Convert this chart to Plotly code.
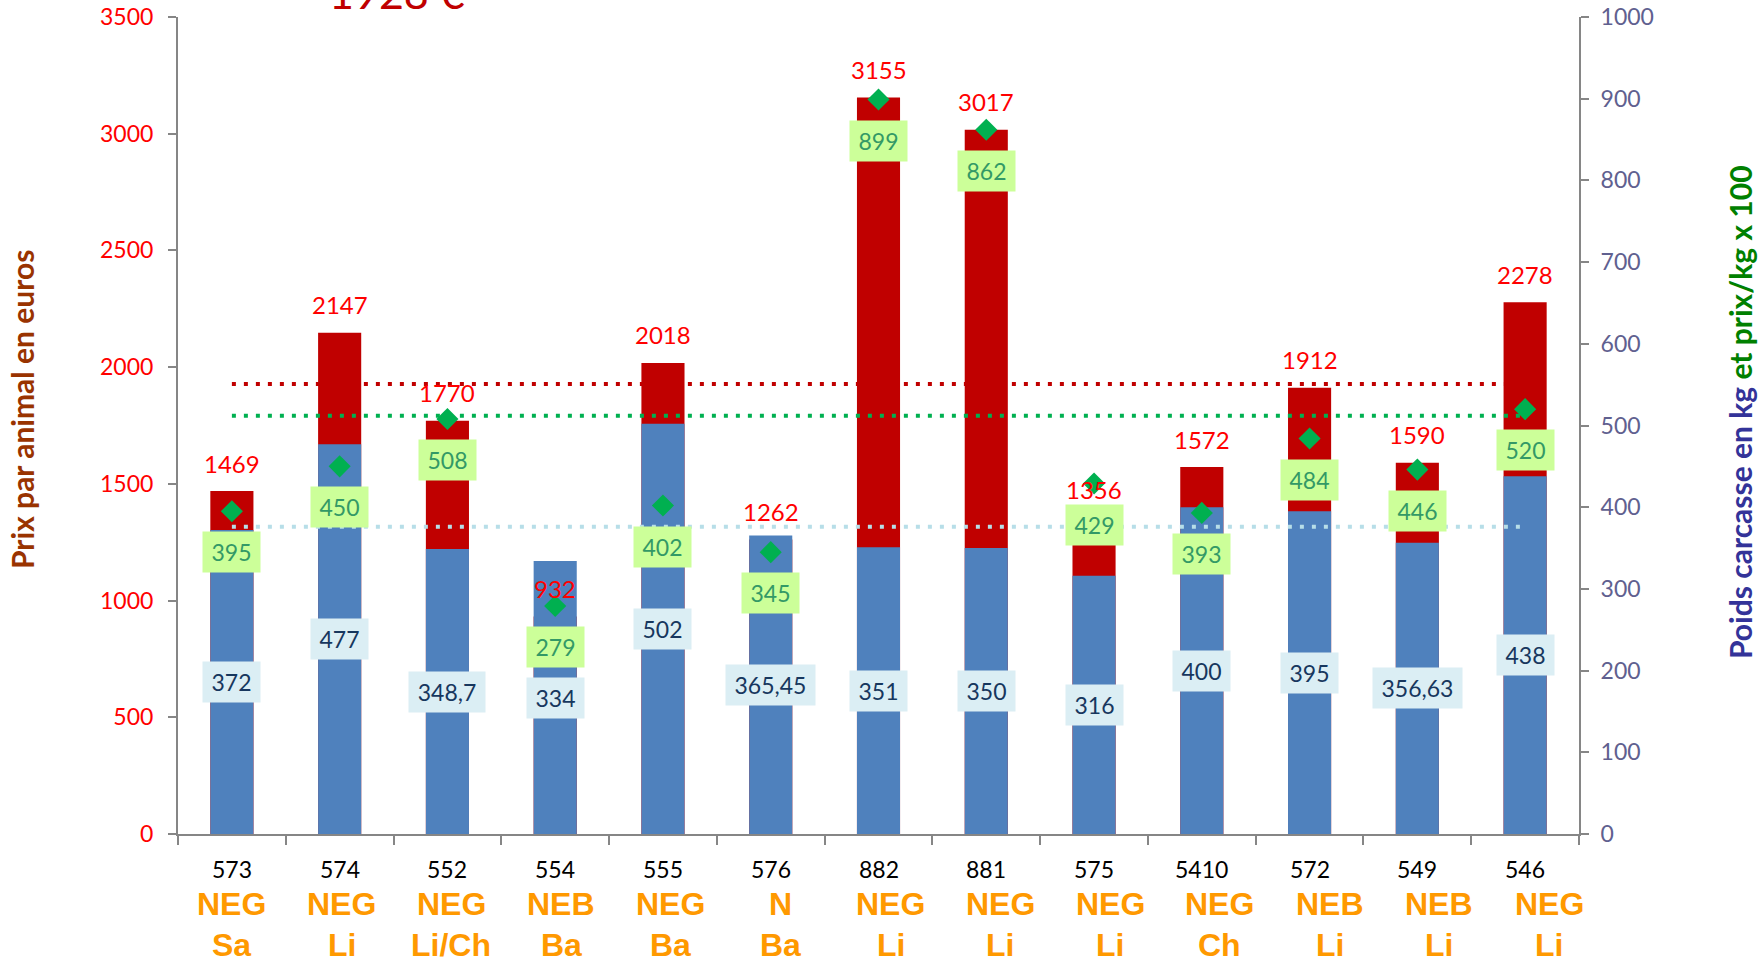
import plotly.graph_objects as go

# ---- data ----
ids = ["573", "574", "552", "554", "555", "576", "882", "881", "575", "5410", "572", "549", "546"]
types = ["NEG", "NEG", "NEG", "NEB", "NEG", "N", "NEG", "NEG", "NEG", "NEG", "NEB", "NEB", "NEG"]
breeds = ["Sa", "Li", "Li/Ch", "Ba", "Ba", "Ba", "Li", "Li", "Li", "Ch", "Li", "Li", "Li"]
price_animal = [1469, 2147, 1770, 932, 2018, 1262, 3155, 3017, 1356, 1572, 1912, 1590, 2278]
carcass_kg = [372, 477, 348.7, 334, 502, 365.45, 351, 350, 316, 400, 395, 356.63, 438]
price_kg_x100 = [395, 450, 508, 279, 402, 345, 899, 862, 429, 393, 484, 446, 520]
avg_price_line = 1928      # left axis
avg_pricekg_line = 512     # right axis
avg_weight_line = 376      # right axis
title_text = "1928 €"

FONT = "Lato, Open Sans, sans-serif"
W, H = 1758, 966
ML, MR, MT, MB = 178, 179, 17, 132
PW, PH = W - ML - MR, H - MT - MB


def px_to_paper_y(py):
    return (H - MB - py) / PH


def px_to_paper_x(px):
    return (px - ML) / PW


def fmt(v):
    return str(int(v)) if float(v).is_integer() else str(v).replace(".", ",")


fig = go.Figure()

fig.add_trace(go.Bar(x=ids, y=price_animal, marker=dict(color="#c00000", line=dict(width=0)),
                     width=0.4, yaxis="y", name="Prix"))
fig.add_trace(go.Bar(x=ids, y=carcass_kg, marker=dict(color="#4f81bd", line=dict(width=0)),
                     width=0.4, yaxis="y2", name="Poids"))

# reference dotted lines
fig.add_trace(go.Scatter(x=[ids[0], ids[-1]], y=[avg_price_line] * 2, mode="lines", yaxis="y",
                         line=dict(color="#c00000", width=4, dash="4px,8px"), hoverinfo="skip"))
fig.add_trace(go.Scatter(x=[ids[0], ids[-1]], y=[avg_pricekg_line] * 2, mode="lines", yaxis="y2",
                         line=dict(color="#00b050", width=4, dash="4px,8px"), hoverinfo="skip"))
fig.add_trace(go.Scatter(x=[ids[0], ids[-1]], y=[avg_weight_line] * 2, mode="lines", yaxis="y2",
                         line=dict(color="#b7dee8", width=4, dash="4px,8px"), hoverinfo="skip"))

fig.add_trace(go.Scatter(x=ids, y=price_kg_x100, mode="markers", yaxis="y2",
                         marker=dict(symbol="diamond", size=17, color="#00b050", line=dict(width=0))))

ann = []
for i, cid in enumerate(ids):
    # category axis annotations: use the category index
    ann.append(dict(x=i, y=price_animal[i], xref="x", yref="y", text=str(price_animal[i]),
                    showarrow=False, yanchor="middle", yshift=28,
                    font=dict(family=FONT, size=24, color="#ff0000")))
    t = fmt(carcass_kg[i])
    nd = sum(c.isdigit() for c in t)
    nc = t.count(",")
    ann.append(dict(x=i, y=carcass_kg[i] / 2, xref="x", yref="y2", text=t, showarrow=False,
                    yanchor="middle", bgcolor="#dbeef4", borderpad=5, height=30,
                    width=nd * 13 + nc * 6 + 8,
                    font=dict(family=FONT, size=23, color="#17375e")))
    t2 = str(price_kg_x100[i])
    ann.append(dict(x=i, y=price_kg_x100[i], xref="x", yref="y2", text=t2, showarrow=False,
                    yanchor="middle", yshift=-41, bgcolor="#ccff99", borderpad=5, height=30,
                    width=len(t2) * 13 + 8,
                    font=dict(family=FONT, size=23, color="#339966")))
    ann.append(dict(x=i, y=px_to_paper_y(869), xref="x", yref="paper", text=cid, showarrow=False,
                    yanchor="middle", font=dict(family=FONT, size=23, color="#000000")))
    ann.append(dict(x=i, y=px_to_paper_y(904), xref="x", yref="paper", text="<b>%s</b>" % types[i],
                    showarrow=False, yanchor="middle", xshift=round(i * 2),
                    font=dict(family="Liberation Sans, Arial, sans-serif", size=32, color="#ff9900")))
    ann.append(dict(x=i, y=px_to_paper_y(945), xref="x", yref="paper", text="<b>%s</b>" % breeds[i],
                    showarrow=False, yanchor="middle", xshift=round(i * 2),
                    font=dict(family="Liberation Sans, Arial, sans-serif", size=32, color="#ff9900")))

# axis titles
ann.append(dict(x=px_to_paper_x(22), y=px_to_paper_y(410), xref="paper", yref="paper",
                xanchor="center", yanchor="middle",
                text="<b>Prix par animal en euros</b>", textangle=-90, showarrow=False,
                font=dict(family=FONT, size=30, color="#993300")))
ann.append(dict(x=px_to_paper_x(1740), y=px_to_paper_y(412), xref="paper", yref="paper",
                xanchor="center", yanchor="middle",
                text="<b><span style='color:#333399'>Poids carcasse en kg</span> "
                     "<span style='color:#008000'>et prix/kg x 100</span></b>",
                textangle=-90, showarrow=False, font=dict(family=FONT, size=30, color="#333399")))
# partially visible title (cut at the top edge as in the reference)
ann.append(dict(x=px_to_paper_x(397), y=px_to_paper_y(20), xref="paper", yref="paper",
                xanchor="center", yanchor="bottom",
                text=title_text, showarrow=False,
                font=dict(family=FONT, size=43, color="#c00000")))

axis_line = "#868686"
fig.update_layout(
    width=W, height=H,
    margin=dict(l=ML, r=MR, t=MT, b=MB, pad=0, autoexpand=False),
    paper_bgcolor="white", plot_bgcolor="white",
    barmode="overlay", showlegend=False,
    font=dict(family=FONT),
    annotations=ann,
    xaxis=dict(type="category", categoryorder="array", categoryarray=ids, range=[-0.5, len(ids) - 0.5],
               showline=True, linecolor=axis_line, linewidth=2, ticks="outside", tickson="boundaries",
               ticklen=9, tickcolor=axis_line, tickwidth=2, showticklabels=False, showgrid=False,
               zeroline=False, automargin=False),
    yaxis=dict(range=[0, 3500], dtick=500, showline=True, linecolor=axis_line, linewidth=2,
               ticks="outside", ticklen=8, tickcolor=axis_line, tickwidth=2, showgrid=False,
               zeroline=False, automargin=False, ticklabelstandoff=10,
               tickfont=dict(family=FONT, size=23, color="#ff0000")),
    yaxis2=dict(range=[0, 1000], dtick=100, overlaying="y", side="right", showline=True,
                linecolor=axis_line, linewidth=2, ticks="outside", ticklen=8, tickcolor=axis_line,
                tickwidth=2, showgrid=False, zeroline=False, automargin=False, ticklabelstandoff=7,
                tickfont=dict(family=FONT, size=23, color="#60608f")),
)

fig.write_html("out.html", config={"displayModeBar": False},
               post_script="document.body.style.margin='0px';")
